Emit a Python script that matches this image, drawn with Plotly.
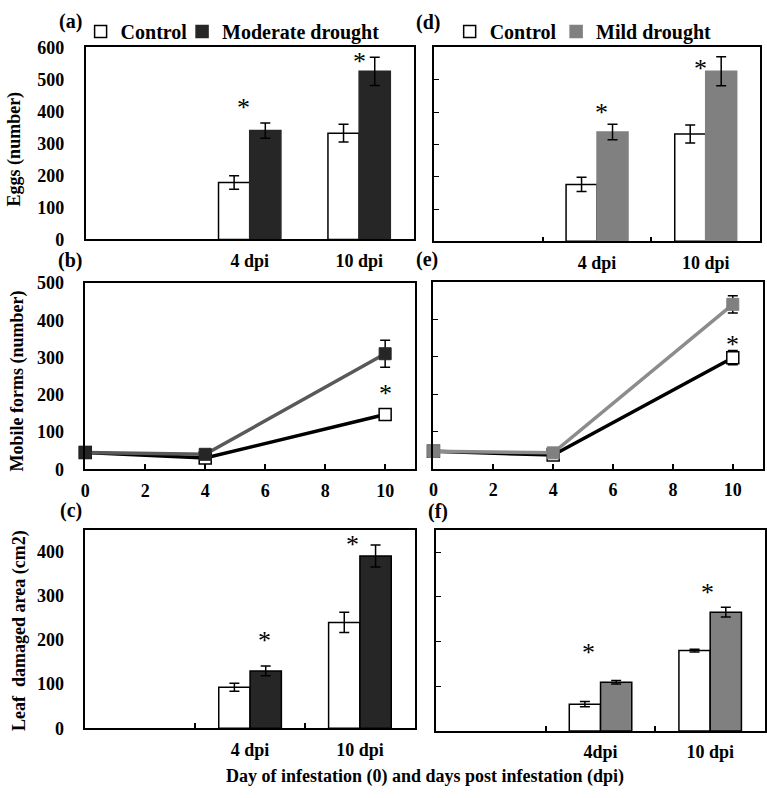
import plotly.graph_objects as go

# ---------------- data ----------------
bar_categories = ["4 dpi", "10 dpi"]
bar_axis_categories = ["0"] + bar_categories
days = [0, 4, 10]

# (a) Eggs, moderate drought
eggs_ctrl_a = [178, 332]
eggs_ctrl_a_err = [21, 28]
eggs_drought_a = [340, 525]
eggs_drought_a_err = [24, 44]
eggs_star_a = [429, 570]

# (d) Eggs, mild drought
eggs_ctrl_d = [176, 332]
eggs_ctrl_d_err = [22, 28]
eggs_mild_d = [338, 526]
eggs_mild_d_err = [24, 45]
eggs_star_d = [413, 549]

# (b) Mobile forms, moderate drought
mob_ctrl_b = [45, 30, 147]
mob_ctrl_b_err = [4, 4, 8]
mob_drought_b = [45, 40, 310]
mob_drought_b_err = [5, 4, 36]
mob_star_b = 216

# (e) Mobile forms, mild drought
mob_ctrl_e = [47, 37, 298]
mob_ctrl_e_err = [4, 4, 19]
mob_mild_e = [47, 43, 441]
mob_mild_e_err = [5, 4, 23]
mob_star_e = 348

# (c) Leaf damaged area, moderate drought
leaf_ctrl_c = [93, 240]
leaf_ctrl_c_err = [9, 23]
leaf_drought_c = [130, 391]
leaf_drought_c_err = [11, 25]
leaf_star_c = [210, 428]

# (f) Leaf damaged area, mild drought
leaf_ctrl_f = [60, 180]
leaf_ctrl_f_err = [6, 3]
leaf_mild_f = [109, 266]
leaf_mild_f_err = [4, 11]
leaf_star_f = [187, 321]
f_tick_text = ["4dpi", "10 dpi"]

# ---------------- style ----------------
W, H = 767, 798
FONT = "Liberation Serif, 'Times New Roman', serif"
DARK = "#262626"
GRAY = "#808080"
DARK_LINE = "#595959"
GRAY_LINE = "#8c8c8c"


def xd(x0, x1):
    return [x0 / W, x1 / W]


def yd(top, bottom):
    return [1 - bottom / H, 1 - top / H]


fig = go.Figure()


def err(vals, show=True):
    return dict(type="data", array=vals, color="black", thickness=1.5, width=5, visible=show)


# ----- bar panels -----
def add_bars(xa, ya, ctrl, ctrl_err, trt, trt_err, trt_color, trt_name,
             leg_ctrl, leg_trt, showlegend, trt_line):
    fig.add_trace(go.Bar(x=bar_categories, y=ctrl, name="Control", xaxis=xa, yaxis=ya,
                         marker=dict(color="white", line=dict(color="black", width=1.5)),
                         error_y=err(ctrl_err), legend=leg_ctrl, showlegend=showlegend))
    fig.add_trace(go.Bar(x=bar_categories, y=trt, name=trt_name, xaxis=xa, yaxis=ya,
                         marker=dict(color=trt_color, line=dict(color=trt_line, width=1.5)),
                         error_y=err(trt_err), legend=leg_trt, showlegend=showlegend))


add_bars("x", "y", eggs_ctrl_a, eggs_ctrl_a_err, eggs_drought_a, eggs_drought_a_err,
         DARK, "Moderate drought", "legend", "legend2", True, DARK)
add_bars("x4", "y4", eggs_ctrl_d, eggs_ctrl_d_err, eggs_mild_d, eggs_mild_d_err,
         GRAY, "Mild drought", "legend3", "legend4", True, GRAY)
add_bars("x3", "y3", leaf_ctrl_c, leaf_ctrl_c_err, leaf_drought_c, leaf_drought_c_err,
         DARK, "Moderate drought", "legend", "legend2", False, "black")
add_bars("x6", "y6", leaf_ctrl_f, leaf_ctrl_f_err, leaf_mild_f, leaf_mild_f_err,
         GRAY, "Mild drought", "legend3", "legend4", False, "black")


# ----- line panels -----
def add_lines(xa, ya, ctrl, ctrl_err, trt, trt_err, trt_marker, trt_line, trt_name):
    fig.add_trace(go.Scatter(x=days, y=ctrl, mode="lines+markers", name="Control",
                             xaxis=xa, yaxis=ya, cliponaxis=False, showlegend=False,
                             line=dict(color="black", width=3.5),
                             marker=dict(symbol="square", size=12, color="white",
                                         line=dict(color="black", width=1.5)),
                             error_y=err(ctrl_err)))
    fig.add_trace(go.Scatter(x=days, y=trt, mode="lines+markers", name=trt_name,
                             xaxis=xa, yaxis=ya, cliponaxis=False, showlegend=False,
                             line=dict(color=trt_line, width=3.5),
                             marker=dict(symbol="square", size=12, color=trt_marker,
                                         line=dict(color=trt_marker, width=1)),
                             error_y=err(trt_err)))


add_lines("x2", "y2", mob_ctrl_b, mob_ctrl_b_err, mob_drought_b, mob_drought_b_err,
          DARK, DARK_LINE, "Moderate drought")
add_lines("x5", "y5", mob_ctrl_e, mob_ctrl_e_err, mob_mild_e, mob_mild_e_err,
          GRAY, GRAY_LINE, "Mild drought")

# ---------------- axes ----------------
tickfont = dict(family=FONT, size=18, color="black", weight="bold")
common = dict(showline=True, mirror=True, linecolor="black", linewidth=1.5,
              showgrid=False, zeroline=False, tickfont=tickfont, fixedrange=True)


def bar_xaxis(domain, anchor, show_ticks, ticktext=None):
    d = dict(common, domain=domain, anchor=anchor, type="category",
             categoryorder="array", categoryarray=bar_axis_categories,
             range=[-0.5, 2.5], tickmode="array", tickvals=bar_categories,
             ticktext=ticktext if ticktext else bar_categories,
             tickson="boundaries", ticks="inside" if show_ticks else "",
             ticklen=5, tickwidth=1.5, tickcolor="black", ticklabelstandoff=4)
    return d


def yaxis(domain, anchor, rng, labels, ticks):
    return dict(common, domain=domain, anchor=anchor, range=rng, dtick=100, tick0=0,
                showticklabels=labels, ticks="inside" if ticks else "", ticklen=5,
                tickwidth=1, tickcolor="black", ticklabelstandoff=16)


def line_xaxis(domain, anchor):
    return dict(common, domain=domain, anchor=anchor, range=[0, 11], tickmode="array",
                tickvals=[0, 2, 4, 6, 8, 10], ticks="inside", ticklen=5, tickwidth=1.5,
                tickcolor="black", ticklabelstandoff=4)


fig.update_layout(
    xaxis=bar_xaxis(xd(82, 412), "y", False),
    yaxis=yaxis(yd(38.3, 235.3), "x", [0, 600], True, False),
    xaxis4=bar_xaxis(xd(432.3, 760), "y4", True),
    yaxis4=yaxis(yd(38.3, 237.3), "x4", [0, 600], False, True),
    xaxis2=line_xaxis(xd(81.7, 413.3), "y2"),
    yaxis2=yaxis(yd(280, 471), "x2", [0, 500], True, False),
    xaxis5=line_xaxis(xd(431.7, 762.7), "y5"),
    yaxis5=yaxis(yd(279.3, 470.7), "x5", [0, 500], False, True),
    xaxis3=bar_xaxis(xd(81.7, 413), "y3", True),
    yaxis3=yaxis(yd(533.3, 736.7), "x3", [0, 450], True, False),
    xaxis6=bar_xaxis(xd(434.3, 765), "y6", True, f_tick_text),
    yaxis6=yaxis(yd(533.3, 739.5), "x6", [0, 450], False, True),
)

legend_font = dict(family=FONT, size=20, color="black", weight="bold")


def leg(px):
    return dict(orientation="h", x=px / W, y=1 - 22 / H, xanchor="left", yanchor="middle",
                font=legend_font, bgcolor="rgba(0,0,0,0)",
                itemclick=False, itemdoubleclick=False)


fig.update_layout(
    width=W, height=H, margin=dict(l=0, r=0, t=0, b=0),
    paper_bgcolor="white", plot_bgcolor="white",
    barmode="group", bargap=0.43, bargroupgap=0,
    legend=leg(77), legend2=leg(179), legend3=leg(448), legend4=leg(555),
)

# ---------------- annotations ----------------
ann = []
star_font = dict(family=FONT, size=26, color="black")


def star(xref, yref, x, y, xshift=0):
    ann.append(dict(x=x, y=y, xref=xref, yref=yref, text="*", showarrow=False,
                    font=star_font, xshift=xshift, yshift=-5, yanchor="middle"))


for cat, yv, sh in zip(bar_categories, eggs_star_a, [-6, 0]):
    star("x", "y", cat, yv, sh)
for cat, yv, sh in zip(bar_categories, eggs_star_d, [4, -5]):
    star("x4", "y4", cat, yv, sh)
for cat, yv, sh in zip(bar_categories, leaf_star_c, [14, -7]):
    star("x3", "y3", cat, yv, sh)
for cat, yv, sh in zip(bar_categories, leaf_star_f, [-12, -3]):
    star("x6", "y6", cat, yv, sh)
star("x2", "y2", days[-1], mob_star_b)
star("x5", "y5", days[-1], mob_star_e)

lab_font = dict(family=FONT, size=20, color="black", weight="bold")
for txt, px, py in [("(a)", 66.5, 12), ("(d)", 426.7, 13), ("(b)", 66.5, 257),
                    ("(e)", 425, 256), ("(c)", 67, 513), ("(f)", 436.5, 514)]:
    ann.append(dict(x=px / W, y=1 - py / H, xref="paper", yref="paper", text=txt,
                    showarrow=False, font=lab_font, xanchor="center", yanchor="middle"))

title_font = dict(family=FONT, size=18, color="black", weight="bold")
for txt, px, py in [("Eggs (number)", 10, 142), ("Mobile forms (number)", 14, 380),
                    ("Leaf  damaged area (cm2)", 15, 636)]:
    ann.append(dict(x=px / W, y=1 - py / H, xref="paper", yref="paper", text=txt,
                    textangle=-90, showarrow=False, font=title_font,
                    xanchor="center", yanchor="middle"))

ann.append(dict(x=423 / W, y=1 - 786.5 / H, xref="paper", yref="paper",
                text="Day of infestation (0) and days post infestation (dpi)",
                showarrow=False, font=title_font, xanchor="center", yanchor="middle"))

fig.update_layout(annotations=ann)

fig.write_html("out.html", config={"displayModeBar": False, "staticPlot": False},
               post_script="document.body.style.margin='0';document.body.style.overflow='hidden';")
